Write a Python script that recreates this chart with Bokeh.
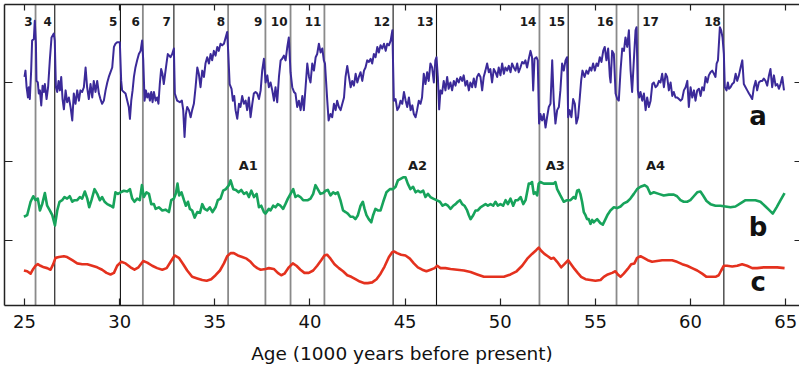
from bokeh.plotting import figure
from bokeh.models import LinearAxis, FixedTicker, Span, ColumnDataSource, Range1d
from bokeh.core.properties import value
from bokeh.embed import file_html
from bokeh.resources import INLINE

# ---------------- data ----------------
x_ticks = [25, 30, 35, 40, 45, 50, 55, 60, 65]
y_ticks = [0, 1, 2]
x_title = "Age (1000 years before present)"

# series a (top, blue) -- age (kyr BP), value (arbitrary units)
a_age = [
    25.00, 25.05, 25.11, 25.18, 25.23, 25.28, 25.35, 25.40, 25.49, 25.54,
    25.60, 25.63, 25.70, 25.75, 25.81, 25.88, 25.95, 26.02, 26.07, 26.16,
    26.24, 26.33, 26.42, 26.54, 26.59, 26.65, 26.72, 26.79, 26.86, 26.93,
    27.00, 27.07, 27.16, 27.24, 27.33, 27.42, 27.51, 27.59, 27.68, 27.77,
    27.86, 27.94, 28.03, 28.12, 28.21, 28.29, 28.38, 28.47, 28.56, 28.64,
    28.73, 28.82, 28.91, 28.99, 29.08, 29.17, 29.26, 29.35, 29.43, 29.52,
    29.61, 29.70, 29.78, 29.87, 30.01, 30.08, 30.13, 30.22, 30.31, 30.40,
    30.48, 30.54, 30.61, 30.68, 30.75, 30.83, 30.92, 31.01, 31.10, 31.18,
    31.24, 31.31, 31.38, 31.45, 31.52, 31.59, 31.66, 31.73, 31.80, 31.89,
    31.97, 32.04, 32.11, 32.18, 32.25, 32.32, 32.39, 32.46, 32.53, 32.60,
    32.67, 32.76, 32.85, 32.90, 33.02, 33.16, 33.27, 33.34, 33.41, 33.48,
    33.55, 33.64, 33.73, 33.81, 33.90, 33.99, 34.08, 34.16, 34.25, 34.34,
    34.43, 34.51, 34.60, 34.69, 34.78, 34.86, 34.95, 35.04, 35.13, 35.21,
    35.30,
    35.39, 35.48, 35.57, 35.65, 35.71, 35.78, 35.88, 35.95, 36.02, 36.09,
    36.18, 36.27, 36.35, 36.44, 36.53, 36.62, 36.70, 36.79, 36.88, 36.97,
    37.05, 37.14, 37.23, 37.32, 37.41, 37.49, 37.58, 37.67, 37.76, 37.84,
    37.93, 38.02, 38.11, 38.19, 38.28, 38.37, 38.46, 38.54, 38.63, 38.72,
    38.81, 38.89, 38.98, 39.07, 39.16, 39.24, 39.33, 39.42, 39.51, 39.60,
    39.68, 39.77, 39.86, 39.95, 40.03, 40.12, 40.21, 40.30, 40.38, 40.47,
    40.56, 40.65, 40.73, 40.79, 40.91, 40.98, 41.08, 41.17, 41.26, 41.35,
    41.43, 41.52, 41.61, 41.70, 41.79, 41.87, 41.96, 42.05, 42.14, 42.22,
    42.31, 42.40, 42.49, 42.57, 42.66, 42.75, 42.84, 42.92, 43.01, 43.10,
    43.19, 43.27, 43.36, 43.45, 43.54, 43.62, 43.71, 43.80, 43.89, 43.98,
    44.06, 44.15, 44.24, 44.33, 44.41, 44.50, 44.59, 44.68, 44.76, 44.85,
    44.94, 45.03, 45.11, 45.20, 45.29, 45.38, 45.46, 45.55,
    45.63, 45.72, 45.81, 45.89, 45.98, 46.07, 46.16, 46.24, 46.33, 46.42,
    46.51, 46.59, 46.65, 46.72, 46.79, 46.86, 46.94, 47.03, 47.12, 47.21,
    47.29, 47.38, 47.47, 47.56, 47.65, 47.73, 47.82, 47.91, 48.00, 48.08,
    48.17, 48.26, 48.35, 48.43, 48.52, 48.61, 48.70, 48.78, 48.87, 48.96,
    49.05, 49.13, 49.22, 49.31, 49.40, 49.48, 49.57, 49.66, 49.75, 49.84,
    49.92, 50.01, 50.10, 50.19, 50.27, 50.36, 50.45, 50.54, 50.62, 50.71,
    50.80, 50.89, 50.97, 51.06, 51.15, 51.24, 51.32, 51.41, 51.50, 51.59,
    51.67, 51.73, 51.80, 51.90, 51.97, 52.04, 52.11, 52.20, 52.29, 52.38,
    52.46, 52.55, 52.64, 52.73, 52.81, 52.90, 52.99, 53.08, 53.16, 53.25,
    53.34, 53.43, 53.51, 53.57, 53.65, 53.74, 53.83, 53.92, 54.00, 54.09,
    54.18, 54.25, 54.32, 54.43, 54.53, 54.62, 54.71, 54.79, 54.88, 54.97,
    55.06, 55.14, 55.23, 55.32, 55.41, 55.49, 55.58, 55.67, 55.76, 55.80,
    55.88, 55.97, 56.06, 56.15, 56.23, 56.32, 56.41, 56.50, 56.58, 56.67,
    56.76, 56.85, 56.93, 57.02, 57.11, 57.16, 57.23, 57.30, 57.37, 57.46,
    57.55, 57.64, 57.72, 57.81, 57.90, 57.99, 58.07, 58.16, 58.25, 58.34,
    58.42, 58.51, 58.60, 58.69, 58.77, 58.86, 58.95, 59.04, 59.12, 59.21,
    59.30, 59.39, 59.47, 59.56, 59.65, 59.74, 59.83, 59.91, 60.00, 60.09,
    60.18, 60.26, 60.35, 60.44, 60.53, 60.61, 60.70, 60.79, 60.88, 60.96,
    61.05, 61.14, 61.23, 61.31, 61.37, 61.44, 61.49, 61.54, 61.61, 61.68,
    61.75, 61.80, 61.89, 61.96, 62.02, 62.10, 62.19, 62.28, 62.37, 62.45,
    62.54, 62.63, 62.72, 62.80, 62.89, 62.98, 63.07, 63.15, 63.24, 63.33,
    63.42, 63.50, 63.59, 63.68, 63.77, 63.85, 63.94, 64.03, 64.12, 64.20,
    64.29, 64.38, 64.47, 64.56, 64.64, 64.73, 64.82, 64.91,
]
a_val = [
    2.07, 2.15, 1.94, 1.81, 1.94, 1.79, 2.15, 2.53, 2.55, 2.78,
    2.49, 2.02, 2.00, 1.86, 1.90, 1.71, 1.96, 1.88, 1.98, 1.79,
    1.94, 2.28, 2.57, 2.62, 2.53, 1.94, 1.88, 2.02, 1.90, 2.07,
    1.79, 1.66, 1.90, 1.75, 1.81, 1.69, 1.52, 1.86, 1.73, 1.90,
    1.77, 1.90, 1.88, 1.94, 2.19, 1.94, 1.79, 1.98, 1.81, 2.02,
    1.88, 2.02, 1.86, 1.79, 1.73, 1.77, 1.90, 2.00, 2.07, 2.13,
    2.19, 2.45, 2.49, 2.51, 2.51, 2.02, 1.90, 1.88, 1.86, 1.77,
    1.69, 1.54, 1.77, 1.90, 2.07, 2.19, 2.28, 2.36, 2.40, 2.53,
    2.28, 1.77, 1.90, 1.81, 1.86, 1.77, 1.88, 1.75, 1.88, 1.77,
    1.81, 1.73, 1.98, 2.17, 2.11, 1.98, 2.11, 2.24, 2.36, 2.34,
    2.32, 2.36, 2.43, 1.86, 1.77, 1.75, 1.77, 1.65, 1.31, 1.60,
    1.69, 1.65, 1.56, 1.65, 1.73, 1.94, 2.19, 2.11, 1.94, 2.15,
    2.07, 2.24, 2.32, 2.24, 2.36, 2.28, 2.40, 2.34, 2.45, 2.40,
    2.49,
    2.47, 2.49, 2.57, 2.64, 2.36, 1.98, 1.92, 1.77, 1.83, 1.65,
    1.54, 1.73, 1.69, 1.83, 1.73, 1.77, 1.65, 1.81, 1.56, 1.73,
    1.86, 1.88, 1.86, 1.79, 1.90, 2.15, 2.30, 2.00, 2.09, 1.94,
    2.00, 1.90, 1.77, 1.94, 1.75, 2.07, 2.28, 2.30, 2.34, 2.28,
    2.45, 2.57, 2.13, 1.94, 1.88, 1.86, 1.69, 1.77, 1.65, 1.83,
    1.65, 1.94, 2.24, 2.07, 2.00, 2.24, 2.15, 2.32, 2.36, 2.49,
    2.38, 2.43, 2.28, 2.24, 1.77, 1.52, 1.60, 1.56, 1.73, 1.65,
    1.77, 1.69, 1.65, 1.73, 1.81, 2.07, 2.21, 2.07, 1.94, 2.02,
    1.96, 2.11, 2.00, 2.07, 2.13, 2.02, 2.15, 2.19, 2.28, 2.26,
    2.30, 2.24, 2.36, 2.32, 2.45, 2.38, 2.47, 2.43, 2.49, 2.40,
    2.49, 2.47, 2.53, 2.66, 1.77, 1.79, 1.65, 1.69, 1.77, 1.73,
    1.88, 1.77, 1.69, 1.81, 1.65, 1.71, 1.60, 1.56,
    1.65, 1.77, 1.73, 1.81, 2.11, 1.98, 2.13, 2.02, 2.24, 2.19,
    2.00, 2.28, 2.32, 2.07, 1.66, 1.90, 1.86, 2.02, 1.90, 2.07,
    1.92, 2.00, 1.90, 2.02, 1.96, 2.05, 2.00, 2.07, 2.02, 2.09,
    1.96, 2.02, 1.90, 2.00, 1.94, 2.05, 1.94, 2.07, 2.11, 2.07,
    1.90, 2.07, 2.15, 2.24, 2.13, 2.17, 2.00, 2.17, 2.13, 2.07,
    2.19, 2.09, 2.24, 2.11, 2.19, 2.15, 2.21, 2.13, 2.24, 2.19,
    2.15, 2.24, 2.13, 2.19, 2.26, 2.24, 2.28, 2.19, 2.30, 2.40,
    2.32, 1.90, 2.30, 2.32, 2.28, 1.48, 1.60, 1.52, 1.60, 1.43,
    1.56, 1.69, 1.73, 2.28, 1.77, 1.48, 1.65, 1.69, 1.90, 2.24,
    2.15, 2.28, 2.32, 1.56, 1.65, 1.56, 1.79, 1.73, 1.48, 1.56,
    1.81, 2.02, 2.15, 2.07, 2.15, 2.11, 2.19, 2.15, 2.24, 2.15,
    2.24, 2.21, 2.32, 2.26, 2.40, 2.45, 2.28, 2.43, 2.07, 2.00,
    2.40, 2.36, 1.86, 1.79, 1.77, 2.15, 2.43, 2.40, 2.57, 2.45,
    2.66, 2.15, 1.88, 2.28, 2.66, 2.70, 1.90, 1.81, 1.88, 1.77,
    1.86, 1.65, 1.81, 1.69, 1.77, 1.98, 2.00, 1.94, 1.96, 2.02,
    2.00, 2.11, 1.94, 2.11, 2.07, 1.90, 2.00, 1.83, 1.88, 1.81,
    1.81, 1.79, 1.77, 1.79, 1.90, 1.94, 2.02, 1.69, 1.94, 1.81,
    1.90, 1.77, 1.90, 1.92, 1.83, 1.94, 1.90, 2.07, 2.00, 2.09,
    2.13, 2.15, 2.11, 2.07, 2.24, 2.28, 2.49, 2.70, 2.66, 2.57,
    2.36, 1.94, 1.90, 2.00, 1.92, 1.94, 1.98, 2.00, 2.11, 2.02,
    2.09, 2.19, 2.28, 1.98, 1.94, 1.90, 1.86, 1.83, 1.79, 1.94,
    2.02, 1.90, 2.00, 2.02, 2.02, 2.05, 2.02, 1.96, 2.09, 2.17,
    1.94, 2.09, 1.96, 1.98, 1.92, 1.98, 2.07, 1.90,
]

# series b (middle, green)
b_age = [
    24.97, 25.14, 25.32, 25.46, 25.58, 25.70, 25.81, 25.93, 26.07, 26.19,
    26.33, 26.46, 26.60, 26.72, 26.84, 26.98, 27.10, 27.24, 27.38, 27.51,
    27.63, 27.77, 27.91, 28.03, 28.17, 28.30, 28.40, 28.52, 28.68, 28.82,
    28.96, 29.08, 29.21, 29.35, 29.52, 29.66, 29.78, 29.91, 30.05, 30.22,
    30.40, 30.54, 30.66, 30.78, 30.92, 31.06, 31.17, 31.27, 31.41, 31.54,
    31.66, 31.80, 31.89, 32.06, 32.24, 32.41, 32.59, 32.71, 32.85, 32.96,
    33.04, 33.13, 33.25, 33.38, 33.48, 33.59, 33.69, 33.81, 33.94, 34.08,
    34.22, 34.34, 34.46, 34.60, 34.74, 34.88, 35.04, 35.16, 35.30, 35.44,
    35.58, 35.74, 35.83, 35.97, 36.11, 36.25, 36.39, 36.53, 36.67, 36.79,
    36.92, 37.06, 37.20, 37.32, 37.44, 37.58, 37.66, 37.84, 37.93, 38.07,
    38.19, 38.31, 38.45, 38.59, 38.71, 38.84, 38.98, 39.12, 39.24, 39.36,
    39.50, 39.64, 39.77, 39.89, 40.03, 40.17, 40.29, 40.41, 40.55, 40.69,
    40.82, 40.94, 41.08, 41.22, 41.34, 41.46, 41.60, 41.74, 41.87, 41.99,
    42.13, 42.27, 42.39, 42.52, 42.66, 42.78, 42.87, 42.97, 43.09, 43.22,
    43.32, 43.44, 43.57, 43.71, 43.85, 44.02, 44.20, 44.37, 44.50, 44.62,
    44.76, 44.90, 45.02, 45.14, 45.28, 45.42, 45.55, 45.67, 45.81, 45.95,
    46.07, 46.20, 46.33, 46.48, 46.65, 46.83, 46.97, 47.12, 47.25, 47.39,
    47.53, 47.65, 47.77, 47.88, 48.00, 48.12, 48.26, 48.35, 48.44, 48.58,
    48.70, 48.82, 48.96, 49.10, 49.23, 49.35, 49.49, 49.63, 49.75, 49.87,
    50.01, 50.15, 50.28, 50.40, 50.54, 50.68, 50.80, 50.93, 51.07, 51.21,
    51.33, 51.50, 51.59, 51.67, 51.76, 51.85, 51.94, 52.02, 52.11, 52.29,
    52.46, 52.64, 52.81, 52.90, 52.99, 53.16, 53.34, 53.51, 53.69, 53.86,
    53.95, 54.04, 54.13, 54.21, 54.30, 54.39, 54.48, 54.56, 54.65, 54.74,
    54.83, 54.91, 55.09, 55.26, 55.39, 55.53, 55.65, 55.79, 55.97, 56.14,
    56.32, 56.49, 56.67, 56.84, 57.02, 57.19, 57.37, 57.58, 57.72, 57.89,
    58.07, 58.33, 58.59, 58.86, 59.12, 59.29, 59.47, 59.64, 59.82, 59.99,
    60.17, 60.35, 60.52, 60.66, 60.84, 61.05, 61.31, 61.57, 61.83, 62.10,
    62.36, 62.62, 62.89, 63.15, 63.41, 63.67, 63.94, 64.11, 64.32, 64.52,
    64.73, 64.94,
]
b_val = [
    0.30, 0.32, 0.49, 0.56, 0.51, 0.53, 0.38, 0.46, 0.60, 0.44,
    0.38, 0.32, 0.19, 0.38, 0.49, 0.51, 0.55, 0.53, 0.56, 0.49,
    0.51, 0.51, 0.55, 0.53, 0.62, 0.53, 0.42, 0.51, 0.65, 0.59,
    0.51, 0.55, 0.49, 0.46, 0.44, 0.42, 0.61, 0.59, 0.61, 0.63,
    0.62, 0.65, 0.53, 0.49, 0.53, 0.51, 0.70, 0.55, 0.61, 0.59,
    0.46, 0.46, 0.40, 0.42, 0.38, 0.39, 0.36, 0.51, 0.53, 0.60,
    0.72, 0.57, 0.61, 0.51, 0.44, 0.49, 0.40, 0.38, 0.29, 0.36,
    0.35, 0.46, 0.40, 0.38, 0.42, 0.36, 0.42, 0.51, 0.53, 0.63,
    0.65, 0.70, 0.76, 0.65, 0.64, 0.61, 0.64, 0.59, 0.61, 0.55,
    0.63, 0.55, 0.59, 0.42, 0.44, 0.36, 0.34, 0.40, 0.38, 0.44,
    0.42, 0.46, 0.44, 0.40, 0.46, 0.53, 0.59, 0.65, 0.55, 0.57,
    0.55, 0.51, 0.51, 0.51, 0.53, 0.59, 0.70, 0.65, 0.59, 0.60,
    0.63, 0.64, 0.57, 0.61, 0.59, 0.61, 0.51, 0.38, 0.36, 0.34,
    0.30, 0.30, 0.27, 0.32, 0.44, 0.49, 0.40, 0.32, 0.27, 0.23,
    0.32, 0.40, 0.38, 0.38, 0.49, 0.61, 0.65, 0.65, 0.68, 0.76,
    0.78, 0.80, 0.80, 0.72, 0.65, 0.68, 0.61, 0.63, 0.61, 0.63,
    0.55, 0.59, 0.55, 0.53, 0.51, 0.49, 0.44, 0.46, 0.44, 0.40,
    0.44, 0.46, 0.49, 0.51, 0.46, 0.44, 0.38, 0.32, 0.27, 0.32,
    0.38, 0.38, 0.42, 0.44, 0.46, 0.44, 0.46, 0.44, 0.49, 0.44,
    0.46, 0.44, 0.51, 0.46, 0.53, 0.44, 0.51, 0.51, 0.55, 0.46,
    0.51, 0.72, 0.72, 0.74, 0.59, 0.61, 0.57, 0.72, 0.74, 0.72,
    0.72, 0.72, 0.72, 0.74, 0.65, 0.57, 0.49, 0.51, 0.51, 0.55,
    0.53, 0.63, 0.64, 0.59, 0.49, 0.36, 0.32, 0.27, 0.27, 0.21,
    0.26, 0.23, 0.27, 0.22, 0.20, 0.27, 0.33, 0.38, 0.42, 0.41,
    0.43, 0.47, 0.49, 0.53, 0.59, 0.65, 0.68, 0.70, 0.68, 0.59,
    0.61, 0.59, 0.57, 0.58, 0.58, 0.56, 0.51, 0.49, 0.49, 0.51,
    0.56, 0.61, 0.62, 0.57, 0.50, 0.46, 0.44, 0.44, 0.43, 0.42,
    0.43, 0.47, 0.51, 0.51, 0.51, 0.49, 0.43, 0.39, 0.34, 0.42,
    0.51, 0.60,
]

# series c (bottom, red)
c_age = [
    24.97, 25.14, 25.32, 25.46, 25.58, 25.70, 25.84, 26.02, 26.19, 26.37,
    26.51, 26.63, 26.81, 27.07, 27.24, 27.51, 27.77, 28.03, 28.30, 28.56,
    28.82, 29.08, 29.31, 29.52, 29.70, 29.87, 30.08, 30.31, 30.57, 30.78,
    30.99, 31.24, 31.45, 31.71, 31.97, 32.24, 32.47, 32.68, 32.89, 33.11,
    33.34, 33.55, 33.81, 34.08, 34.34, 34.57, 34.81, 35.04, 35.27, 35.48,
    35.65, 35.83, 36.00, 36.21, 36.44, 36.67, 36.88, 37.06, 37.23, 37.41,
    37.67, 37.84, 38.10, 38.31, 38.49, 38.66, 38.89, 39.10, 39.29, 39.50,
    39.71, 39.94, 40.17, 40.38, 40.59, 40.76, 40.90, 41.08, 41.29, 41.52,
    41.74, 41.96, 42.17, 42.39, 42.62, 42.87, 43.04, 43.27, 43.50, 43.71,
    43.92, 44.15, 44.32, 44.44, 44.58, 44.79, 45.02, 45.25, 45.46, 45.67,
    45.90, 46.12, 46.34, 46.55, 46.69, 46.86, 47.12, 47.39, 47.74, 48.09,
    48.44, 48.79, 49.14, 49.49, 49.84, 50.19, 50.54, 50.86, 51.15, 51.42,
    51.67, 51.90, 52.02, 52.15, 52.32, 52.50, 52.67, 52.81, 52.99, 53.20,
    53.37, 53.57, 53.72, 53.90, 54.07, 54.25, 54.48, 54.74, 55.00, 55.27,
    55.44, 55.65, 55.88, 56.05, 56.18, 56.32, 56.49, 56.70, 56.88, 57.05,
    57.19, 57.37, 57.54, 57.75, 57.98, 58.24, 58.51, 58.77, 59.03, 59.29,
    59.56, 59.82, 60.08, 60.35, 60.61, 60.84, 61.08, 61.31, 61.48, 61.61,
    61.75, 61.92, 62.19, 62.45, 62.71, 62.97, 63.24, 63.50, 63.85, 64.20,
    64.55, 64.94,
]
c_val = [
    -0.38, -0.39, -0.42, -0.36, -0.32, -0.30, -0.32, -0.34, -0.35, -0.37,
    -0.30, -0.22, -0.21, -0.20, -0.21, -0.25, -0.29, -0.30, -0.30, -0.32,
    -0.34, -0.37, -0.41, -0.43, -0.41, -0.32, -0.27, -0.29, -0.34, -0.37,
    -0.34, -0.26, -0.28, -0.32, -0.35, -0.37, -0.35, -0.27, -0.19, -0.22,
    -0.30, -0.38, -0.46, -0.48, -0.50, -0.51, -0.49, -0.44, -0.38, -0.29,
    -0.20, -0.16, -0.16, -0.19, -0.21, -0.23, -0.27, -0.32, -0.35, -0.37,
    -0.36, -0.35, -0.36, -0.41, -0.44, -0.42, -0.34, -0.29, -0.32, -0.37,
    -0.41, -0.41, -0.38, -0.32, -0.25, -0.19, -0.18, -0.23, -0.30, -0.35,
    -0.39, -0.44, -0.46, -0.49, -0.52, -0.54, -0.54, -0.53, -0.49, -0.42,
    -0.33, -0.21, -0.15, -0.14, -0.16, -0.18, -0.19, -0.23, -0.29, -0.34,
    -0.37, -0.39, -0.37, -0.35, -0.32, -0.35, -0.35, -0.36, -0.37, -0.38,
    -0.40, -0.43, -0.46, -0.46, -0.46, -0.46, -0.43, -0.39, -0.32, -0.23,
    -0.17, -0.12, -0.09, -0.13, -0.17, -0.20, -0.23, -0.22, -0.27, -0.34,
    -0.30, -0.25, -0.30, -0.36, -0.41, -0.46, -0.49, -0.50, -0.51, -0.50,
    -0.46, -0.43, -0.41, -0.39, -0.43, -0.46, -0.42, -0.36, -0.30, -0.29,
    -0.22, -0.20, -0.22, -0.25, -0.27, -0.26, -0.25, -0.25, -0.25, -0.27,
    -0.30, -0.32, -0.35, -0.38, -0.42, -0.46, -0.46, -0.46, -0.44, -0.38,
    -0.32, -0.32, -0.33, -0.32, -0.30, -0.32, -0.35, -0.35, -0.34, -0.34,
    -0.34, -0.35,
]

# event lines (numbered 3..18)
event_ages = [25.58, 26.59, 30.04, 31.22, 32.85, 35.70, 37.66, 38.98,
              40.76, 44.37, 46.65, 52.06, 53.57, 56.11, 57.25, 61.75]
event_labels = ["3", "4", "5", "6", "7", "8", "9", "10",
                "11", "12", "13", "14", "15", "16", "17", "18"]
event_dark = [False, True, True, False, True, False, False, False,
              False, True, True, False, True, False, False, True]
event_label_side = ["before"] * 14 + ["after", "before"]

# A-events
a_event_labels = ["A1", "A2", "A3", "A4"]
a_event_ages = [36.76, 45.65, 52.89, 58.16]

# series names
series_names = ["a", "b", "c"]

# ---------------- figure ----------------
BLUE = "#3b2a99"
GREEN = "#17a35b"
RED = "#e4311e"
AX = "#222222"
FONT = "DejaVu Sans"

p = figure(width=799, height=370,
           x_range=Range1d(23.949, 65.725), y_range=Range1d(-0.823, 2.987),
           output_backend="svg", toolbar_location=None,
           min_border_left=4, min_border_right=0, min_border_top=4,
           min_border_bottom=65,
           background_fill_color="white", border_fill_color="white",
           outline_line_color=None)
p.grid.visible = False

def no_labels(ax):
    # tick marks only: labels take no space and are not drawn
    ax.major_label_text_font_size = "0px"
    ax.major_label_text_color = None
    ax.major_label_standoff = 0
    ax.major_tick_out = 0
    ax.minor_tick_in = 0
    ax.minor_tick_out = 0
    ax.axis_label = None

# bottom axis
xa = p.xaxis[0]
xa.ticker = FixedTicker(ticks=x_ticks)
xa.major_tick_in = 7
xa.major_tick_out = 0
xa.minor_tick_in = 0
xa.minor_tick_out = 0
xa.axis_line_color = AX
xa.axis_line_width = 1.5
xa.major_tick_line_color = AX
xa.major_tick_line_width = 1.2
xa.major_label_text_font = FONT
xa.major_label_text_font_size = "18px"
xa.major_label_text_color = "#111111"
xa.major_label_standoff = 9
xa.axis_label = x_title
xa.axis_label_text_font = FONT
xa.axis_label_text_font_size = "18.5px"
xa.axis_label_text_font_style = "normal"
xa.axis_label_text_color = "#111111"
xa.axis_label_standoff = 12

# left axis
ya = p.yaxis[0]
ya.ticker = FixedTicker(ticks=y_ticks)
no_labels(ya)
ya.major_tick_in = 8
ya.axis_line_color = AX
ya.axis_line_width = 1.5
ya.major_tick_line_color = AX
ya.major_tick_line_width = 1.2

# right axis (ticks only; frame edge lies at the picture edge)
ra = LinearAxis(ticker=FixedTicker(ticks=y_ticks))
no_labels(ra)
ra.major_tick_in = 5
ra.axis_line_color = None
ra.major_tick_line_color = AX
ra.major_tick_line_width = 1.2
p.add_layout(ra, "right")

# top axis
ta = LinearAxis(ticker=FixedTicker(ticks=x_ticks))
no_labels(ta)
ta.major_tick_in = 6
ta.axis_line_color = AX
ta.axis_line_width = 1.5
ta.major_tick_line_color = AX
ta.major_tick_line_width = 1.2
p.add_layout(ta, "above")

# event lines
for age, dark in zip(event_ages, event_dark):
    p.add_layout(Span(location=age, dimension="height",
                      line_color="#111111" if dark else "#8a8a8a",
                      line_width=1.1 if dark else 1.8, level="underlay"))

# series
p.line(a_age, a_val, line_color=BLUE, line_width=2.0, line_join="round")
p.line(b_age, b_val, line_color=GREEN, line_width=2.6, line_join="round")
p.line(c_age, c_val, line_color=RED, line_width=2.6, line_join="round")

# event number labels
before = [i for i, s in enumerate(event_label_side) if s == "before"]
after = [i for i, s in enumerate(event_label_side) if s == "after"]
LABEL_Y = 2.77
src_b = ColumnDataSource(dict(x=[event_ages[i] for i in before],
                              y=[LABEL_Y] * len(before),
                              t=[event_labels[i] for i in before]))
src_a = ColumnDataSource(dict(x=[event_ages[i] for i in after],
                              y=[LABEL_Y] * len(after),
                              t=[event_labels[i] for i in after]))
common = dict(text_font=value(FONT), text_font_style="bold",
              text_font_size="12px", text_color="#1a1a1a",
              text_baseline="alphabetic")
p.text(x="x", y="y", text="t", source=src_b, text_align="right", x_offset=-3, **common)
p.text(x="x", y="y", text="t", source=src_a, text_align="left", x_offset=4, **common)

# A labels
src_A = ColumnDataSource(dict(x=a_event_ages, y=[0.955] * len(a_event_ages), t=a_event_labels))
p.text(x="x", y="y", text="t", source=src_A, text_align="center",
       text_baseline="alphabetic", text_font=value(FONT), text_font_style="bold",
       text_font_size="13px", text_color="#1a1a1a")

# series letters
src_s = ColumnDataSource(dict(x=[63.55] * 3, y=[1.57, 0.17, -0.53], t=series_names))
p.text(x="x", y="y", text="t", source=src_s, text_align="center",
       text_baseline="alphabetic", text_font=value(FONT), text_font_style="bold",
       text_font_size="26px", text_color="#111111")

open("out.html", "w").write(file_html(p, INLINE))
